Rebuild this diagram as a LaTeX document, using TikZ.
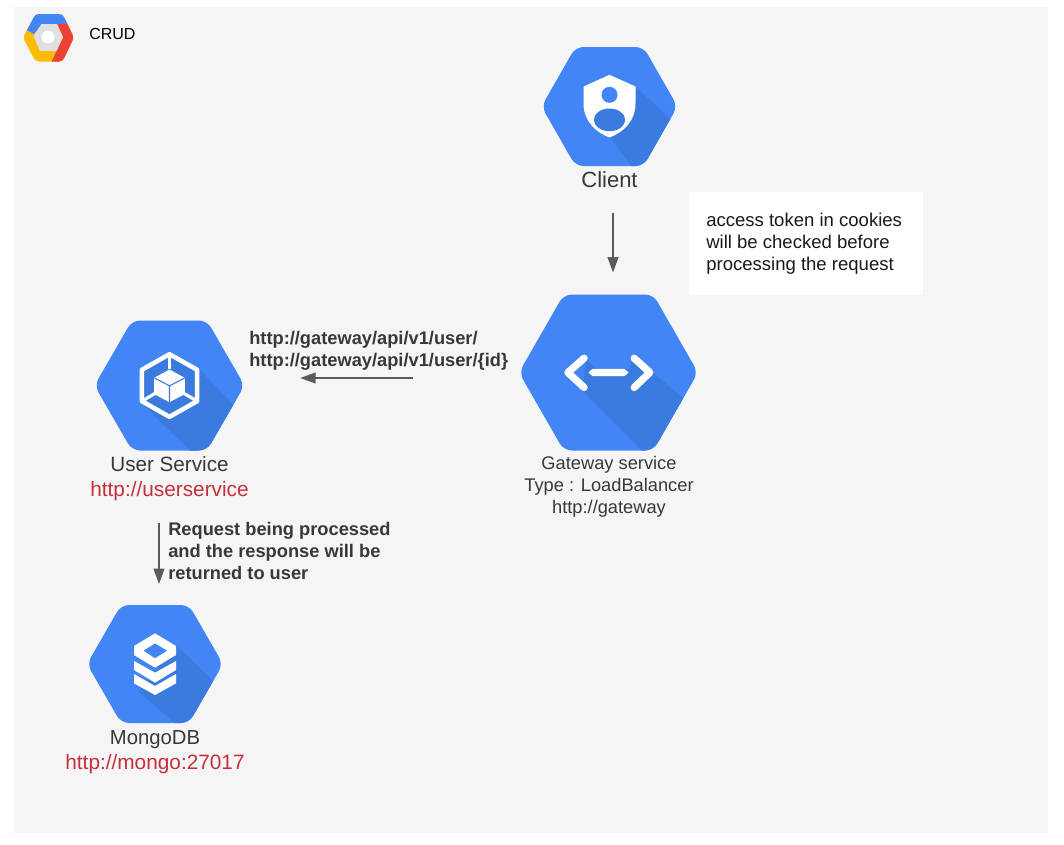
\documentclass[tikz,border=0pt]{standalone}
\usepackage{fontspec}
\setmainfont{Liberation Sans}
\usetikzlibrary{arrows.meta}
\definecolor{gcpblue}{HTML}{4285F4}
\definecolor{gcpshade}{HTML}{3B7BE0}
\definecolor{pagegray}{HTML}{F5F5F5}
\definecolor{linkred}{HTML}{C5303C}
\definecolor{inkgray}{HTML}{383838}
\definecolor{arrowgray}{HTML}{5A5A5A}
\definecolor{logoblue}{HTML}{4285F4}
\definecolor{logored}{HTML}{EA4335}
\definecolor{logoyellow}{HTML}{FBBC05}
\definecolor{logogray}{HTML}{E0E0E0}
\newcommand{\hexpath}[2]{(-#1,0) -- (-#1/2,-#2) -- (#1/2,-#2) -- (#1,0) -- (#1/2,#2) -- (-#1/2,#2) -- cycle}
\newcommand{\fs}[1]{\fontsize{#1}{16.5pt}\selectfont}
\tikzset{
  hexbox/.style={inner sep=0pt,outer sep=0pt},
  hexfill/.style={fill=gcpblue,rounded corners=6pt},
  flow/.style={draw=arrowgray,line width=1.2pt,-{Triangle[length=11.5pt,width=8pt]}},
  caption/.style={inner sep=0pt,text=inkgray,align=center},
  boldnote/.style={inner sep=0pt,text=inkgray,align=left,anchor=north west,font=\fs{13.7}\bfseries},
  icon/.style={scale=1/3}
}
\begin{document}
\begin{tikzpicture}[x=0.75pt,y=-0.75pt]
\useasboundingbox (0,0) rectangle (1064,844);
\fill[pagegray] (14,7) rectangle (1048,833);

% logo
\begin{scope}
  \clip[rounded corners=2.5pt] (23,37.5) -- (35.5,14) -- (62.5,14) -- (74,37.5) -- (62.5,61.5) -- (35.5,61.5) -- cycle;
  \fill[logoyellow] (20,10) rectangle (80,65);
  \fill[logoblue] (20,26.5) -- (34,34) -- (42,24) -- (70,24) -- (70,10) -- (20,10) -- cycle;
  \fill[logored] (57,24) -- (80,24) -- (80,65) -- (50,65) -- (57,50) -- (63,37) -- cycle;
\end{scope}
\fill[logogray] (33.5,36) -- (41.5,24) -- (57,24) -- (63,37) -- (56.5,51) -- (40,51) -- cycle;
\fill[white] (48,37) circle (6.5);
\node[inner sep=0pt,anchor=west,font=\fs{12}] (crud) at (89,34) {CRUD};

% Client
\node[hexbox,minimum width=99pt,minimum height=89pt] (client) at (609.5,106.5) {};
\begin{scope}[shift={(609.5,106.5)}]
  \fill[hexfill] \hexpath{68}{59.5};
  \begin{scope}
    \clip[rounded corners=6pt] \hexpath{68}{59.5};
    \begin{scope}[icon]
      \fill[gcpshade] (78,-60) -- (300,147) -- (130,268) -- (0,90) -- cycle;
      \fill[white] (0,-95) -- (-78,-60) -- (-78,-10) .. controls (-78,45) and (-40,78) .. (0,93) .. controls (40,78) and (78,45) .. (78,-10) -- (78,-60) -- cycle;
      \fill[gcpblue] (0,-35) circle (24);
      \fill[gcpshade] (0,40) ellipse (47 and 34);
    \end{scope}
  \end{scope}
\end{scope}
\node[caption,font=\fs{16.5}] (clientlabel) at (609.5,180) {Client};

% Access token note
\node[fill=white,inner sep=0pt,minimum width=175.5pt,minimum height=77.25pt,anchor=north west] (notebox) at (689,192) {};
\node[inner sep=0pt,align=left,anchor=north west,font=\fs{13.9},text=black!90] (note) at (706,212.5) {access token in cookies\\will be checked before\\processing the request};

% Gateway
\node[hexbox,minimum width=131pt,minimum height=117pt] (gateway) at (608.5,372.5) {};
\begin{scope}[shift={(608.5,372.5)}]
  \fill[hexfill] \hexpath{89.5}{78};
  \begin{scope}
    \clip[rounded corners=6pt] \hexpath{89.5}{78};
    \begin{scope}[icon]
      \fill[gcpshade] (-65,-37) -- (-35,-10) -- (60,-10) -- (75,-42) -- (135,2) -- (400,225) -- (200,332) -- (-80,52) -- cycle;
      \draw[white,line width=5.4pt,line cap=round,line join=round] (-73,-43) -- (-122,0) -- (-73,45);
      \draw[white,line width=5.4pt,line cap=round,line join=round] (77,-43) -- (124,0) -- (77,45);
      \fill[white] (-60,0) -- (-48,-11) -- (48,-11) -- (60,0) -- (48,11) -- (-48,11) -- cycle;
    \end{scope}
  \end{scope}
\end{scope}
\node[caption,font=\fs{13.7}] (gatewaylabel) at (609,487) {Gateway service\\Type : LoadBalancer\\http://gateway};

% User service
\node[hexbox,minimum width=109pt,minimum height=97pt] (user) at (169.5,385.5) {};
\begin{scope}[shift={(169.5,385.5)}]
  \fill[hexfill] \hexpath{75}{65};
  \begin{scope}
    \clip[rounded corners=6pt] \hexpath{75}{65};
    \begin{scope}[icon]
      \fill[gcpshade] (0,-99) -- (89,-50) -- (300,172) -- (130,261) -- (-48,88) -- (-88,50) -- (-88,-50) -- cycle;
      \draw[white,line width=3.4pt,line join=round] (0,-94) -- (83,-47) -- (83,47) -- (0,94) -- (-83,47) -- (-83,-47) -- cycle;
      \draw[white,line width=2.4pt] (0,-94) -- (0,-50);
      \draw[white,line width=2.4pt] (-83,47) -- (-44,24);
      \draw[white,line width=2.4pt] (83,47) -- (44,24);
      \fill[white] (0,-48) -- (46,-23) -- (46,26) -- (0,50) -- (-46,26) -- (-46,-23) -- cycle;
      \draw[gcpshade,line width=0.8pt] (-46,-23) -- (0,1) -- (46,-23) (0,1) -- (0,50);
    \end{scope}
  \end{scope}
\end{scope}
\node[caption,font=\fs{15.5}] (userlabel) at (169.5,478.5) {User Service\\[2.25pt]\textcolor{linkred}{\fs{15.6}http://userservice}};

% MongoDB
\node[hexbox,minimum width=99pt,minimum height=88.5pt] (mongo) at (155,664) {};
\begin{scope}[shift={(155,664)}]
  \fill[hexfill] \hexpath{68}{59};
  \begin{scope}
    \clip[rounded corners=6pt] \hexpath{68}{59};
    \begin{scope}[icon]
      \fill[gcpshade] (63,-57) -- (300,175) -- (130,238) -- (-50,83) -- cycle;
      \fill[white,even odd rule] (0,-92) -- (-63,-54) -- (-63,-27) -- (0,11) -- (63,-27) -- (63,-54) -- cycle
        (-35,-40) -- (0,-62) -- (37,-40) -- (0,-17) -- cycle;
      \fill[white] (-63,-9) -- (0,26) -- (63,-9) -- (63,18) -- (0,56) -- (-63,18) -- cycle;
      \fill[white] (-63,30) -- (0,66) -- (63,30) -- (63,58) -- (0,93) -- (-63,58) -- cycle;
    \end{scope}
  \end{scope}
\end{scope}
\node[caption,font=\fs{15.2}] (mongolabel) at (155,752.5) {MongoDB\\[2.25pt]\textcolor{linkred}{\fs{15.6}http://mongo:27017}};

% Edge labels
\node[boldnote] (routes) at (249,331) {http://gateway/api/v1/user/\\http://gateway/api/v1/user/\{id\}};
\node[boldnote] (processing) at (168,522) {Request being processed\\and the response will be\\returned to user};

% Connectors
\draw[flow] ([shift={(3.5,25)}]clientlabel.south) -- ([shift={(4.5,-22)}]gateway.north);
\draw[flow] ([shift={(-108.5,5.5)}]gateway.west) -- ([shift={(58,-7.5)}]user.east);
\draw[flow] ([shift={(-10.5,22)}]userlabel.south) -- ([shift={(4,-21)}]mongo.north);
\end{tikzpicture}
\end{document}
